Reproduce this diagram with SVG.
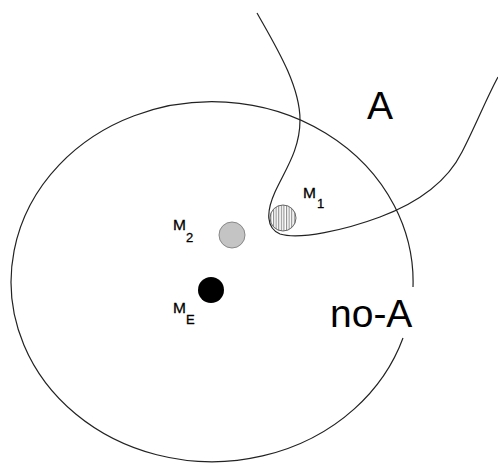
<svg xmlns="http://www.w3.org/2000/svg" width="498" height="466" viewBox="0 0 498 466">
<style>
.ln{fill:none;stroke:#222;stroke-width:1.2}
.lbl{font-family:"Liberation Sans",Arial,sans-serif;fill:#000}
.big{font-size:39px}
.m{font-size:15.5px;stroke:#000;stroke-width:0.3}
.s{font-size:13px;stroke:#000;stroke-width:0.3}
</style>
<defs>
<pattern id="hatch" patternUnits="userSpaceOnUse" width="2.6" height="4">
<rect width="2.6" height="4" fill="#fff"/>
<line x1="0.6" y1="0" x2="0.6" y2="4" stroke="#777" stroke-width="0.9"/>
</pattern>
</defs>
<rect width="498" height="466" fill="#fff"/>
<g id="regionNoA">
<path class="ln" d="M 413 287 A 201 180 0 1 0 403 338"/>
<text class="lbl big" x="330" y="327">no-A</text>
</g>
<g id="regionA">
<path class="ln" d="M 257 13 C 275 45 300 85 300 120 C 300 150 285 170 275 192 C 266 212 266 228 280 234 C 300 240 345 230 380 217 C 420 202 448 180 462 152 C 475 127 487 97 498 77"/>
<text class="lbl big" x="367" y="119">A</text>
</g>
<g id="M1">
<circle cx="283" cy="218" r="13" fill="url(#hatch)" stroke="#666" stroke-width="1"/>
<text class="lbl m" x="303" y="198">M</text>
<text class="lbl s" x="317" y="208">1</text>
</g>
<g id="M2">
<circle cx="232" cy="235" r="13" fill="#c4c4c4" stroke="#888" stroke-width="1"/>
<text class="lbl m" x="173" y="230">M</text>
<text class="lbl s" x="186" y="242">2</text>
</g>
<g id="ME">
<circle cx="211" cy="290" r="13" fill="#000"/>
<text class="lbl m" x="173" y="313">M</text>
<text class="lbl s" x="186" y="324">E</text>
</g>
</svg>
